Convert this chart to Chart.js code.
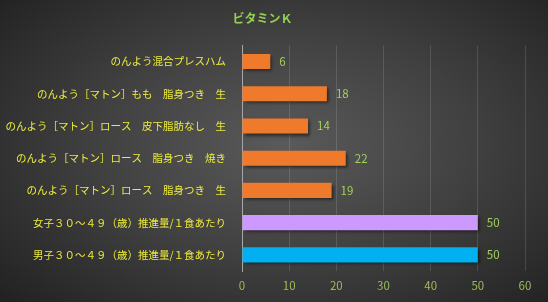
<!DOCTYPE html>
<html lang="ja">
<head>
<meta charset="UTF-8">
<title>ビタミンK</title>
<script src="https://cdn.jsdelivr.net/npm/chart.js"></script>
<style>
  html, body { margin: 0; padding: 0; }
  body {
    width: 548px; height: 302px; overflow: hidden;
    background: radial-gradient(ellipse 70% 75% at 52% 48%, #5a5a5a 0%, #404040 50%, #222 100%);
  }
  #wrap { position: relative; width: 548px; height: 302px; }
</style>
</head>
<body>
<div id="wrap"><canvas id="chart"></canvas></div>
<script>
// データ
const labels = [
  'のんよう混合プレスハム',
  'のんよう［マトン］もも　脂身つき　生',
  'のんよう［マトン］ロース　皮下脂肪なし　生',
  'のんよう［マトン］ロース　脂身つき　焼き',
  'のんよう［マトン］ロース　脂身つき　生',
  '女子３０～４９（歳）推進量/１食あたり',
  '男子３０～４９（歳）推進量/１食あたり'
];
const values = [6, 18, 14, 22, 19, 50, 50];
const barColors = ['#f07a2c', '#f07a2c', '#f07a2c', '#f07a2c', '#f07a2c', '#cc99ff', '#00b0f0'];
const xTicks = [0, 10, 20, 30, 40, 50, 60];

const FONT = '"Noto Sans CJK JP", "Noto Sans", sans-serif';

// 値ラベル
const valueLabels = {
  id: 'valueLabels',
  afterDatasetsDraw(chart) {
    const ctx = chart.ctx;
    const meta = chart.getDatasetMeta(0);
    ctx.save();
    ctx.font = '11.5px ' + FONT;
    ctx.fillStyle = '#a2d05c';
    ctx.textBaseline = 'middle';
    meta.data.forEach((bar, i) => {
      ctx.fillText(values[i], bar.x + 9, bar.y);
    });
    ctx.restore();
  }
};

// 影
const barShadow = {
  id: 'barShadow',
  beforeDatasetsDraw(chart) {
    const ctx = chart.ctx;
    ctx.save();
    ctx.shadowColor = 'rgba(0,0,0,0.55)';
    ctx.shadowBlur = 3;
    ctx.shadowOffsetX = 2;
    ctx.shadowOffsetY = 2;
  },
  afterDatasetsDraw(chart) {
    chart.ctx.restore();
  }
};

new Chart(document.getElementById('chart'), {
  type: 'bar',
  data: {
    labels: labels,
    datasets: [{
      data: values,
      backgroundColor: barColors,
      barPercentage: 0.47,
      categoryPercentage: 1
    }]
  },
  options: {
    indexAxis: 'y',
    responsive: true,
    maintainAspectRatio: false,
    animation: false,
    layout: { padding: { left: 0, right: 23, top: 0, bottom: 0 } },
    plugins: {
      legend: { display: false },
      tooltip: { enabled: false },
      title: {
        display: true,
        text: 'ビタミンＫ',
        color: '#92d050',
        font: { family: FONT, size: 12 },
        padding: { top: 11, bottom: 20 }
      }
    },
    scales: {
      x: {
        min: 0,
        max: 60,
        afterBuildTicks(scale) { scale.ticks = xTicks.map(v => ({ value: v })); },
        afterFit(scale) { scale.height = 31; },
        grid: { color: 'rgba(255,255,255,0.13)', drawTicks: false },
        border: { display: false },
        ticks: { color: '#9bbb59', font: { family: FONT, size: 11.5 }, padding: 8 }
      },
      y: {
        afterFit(scale) { scale.width = 242; },
        grid: { display: false },
        border: { display: true, color: '#a6a6a6', width: 1 },
        ticks: { color: '#ecec3c', font: { family: FONT, size: 10.5 }, padding: 8 }
      }
    }
  },
  plugins: [barShadow, valueLabels]
});
</script>
</body>
</html>
